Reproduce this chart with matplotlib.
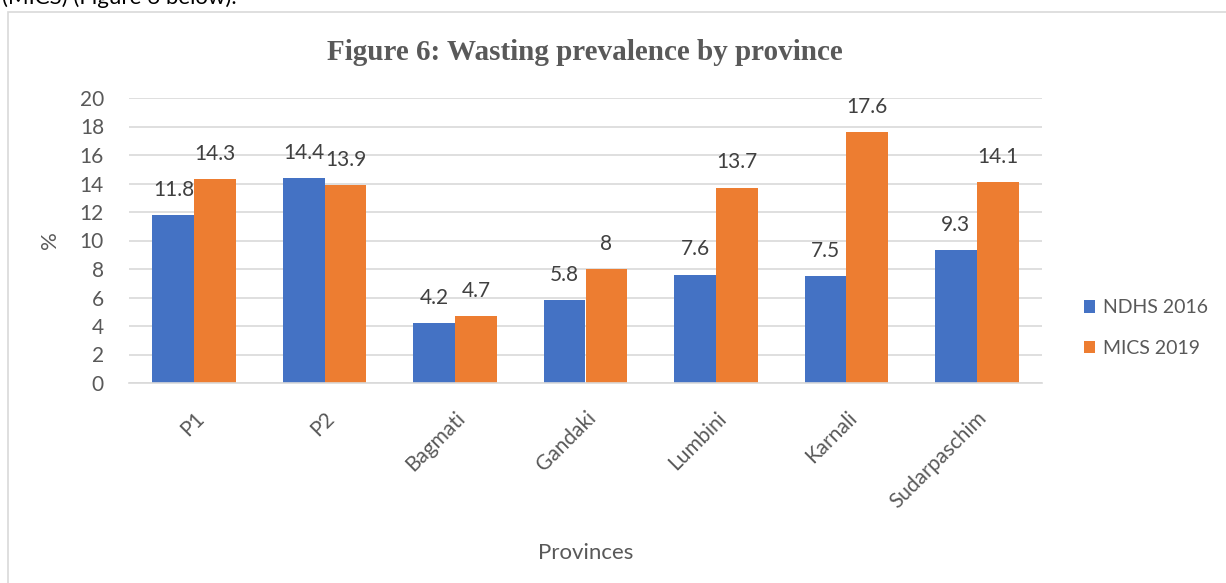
import numpy as np
import matplotlib.pyplot as plt
from matplotlib.patches import Rectangle

provinces = ['P1', 'P2', 'Bagmati', 'Gandaki', 'Lumbini', 'Karnali', 'Sudarpaschim']
ndhs_2016 = [11.8, 14.4, 4.2, 5.8, 7.6, 7.5, 9.3]
mics_2019 = [14.3, 13.9, 4.7, 8, 13.7, 17.6, 14.1]
series_names = ['NDHS 2016', 'MICS 2019']

blue = '#4472c4'
orange = '#ed7d31'
grey = '#595959'

plt.rcParams['font.family'] = ['Lato', 'DejaVu Sans']

W, H = 1226, 583
fig = plt.figure(figsize=(W / 100, H / 100), dpi=100)

# surrounding chart frame and cut-off document text
fig.patches.append(Rectangle((8 / W, -0.1), 1.2, (H - 12) / H + 0.1, transform=fig.transFigure,
                             fill=False, edgecolor='#d9d9d9', linewidth=1.2))
fig.text(2 / W, 1 - (-2) / H, '(MICS) (Figure 6 below).', fontsize=16, color='black',
         ha='left', va='center')

ax = fig.add_axes([129 / W, 1 - 383 / H, (1042 - 129) / W, (383 - 98) / H])

x = np.arange(len(provinces))
w = 0.32
b1 = ax.bar(x - w / 2, ndhs_2016, w, color=blue, label=series_names[0])
b2 = ax.bar(x + w / 2, mics_2019, w, color=orange, label=series_names[1])

for bars, vals in [(b1, ndhs_2016), (b2, mics_2019)]:
    for bar, v in zip(bars, vals):
        lab = f'{v:g}'
        ax.annotate(lab, (bar.get_x() + bar.get_width() / 2, v), xytext=(0, 11),
                    textcoords='offset points', ha='center', va='bottom',
                    fontsize=15, color='#404040')

ax.set_xlim(-0.5, len(provinces) - 0.5)
ax.set_ylim(0, 20)
ax.set_yticks(np.arange(0, 21, 2))
ax.yaxis.grid(True, color='#d9d9d9', linewidth=1.2)
ax.set_axisbelow(True)
for s in ['top', 'right', 'left']:
    ax.spines[s].set_visible(False)
ax.spines['bottom'].set_color('#d9d9d9')
ax.spines['bottom'].set_linewidth(1.2)
ax.tick_params(axis='both', length=0, labelsize=15, labelcolor=grey)
ax.tick_params(axis='y', pad=18)
ax.set_xticks(x)
ax.set_xticklabels(provinces, rotation=45, ha='right', rotation_mode='anchor')
ax.tick_params(axis='x', pad=18)

ax.set_ylabel('%', fontsize=16, color=grey)
ax.yaxis.set_label_coords(-(129 - 60) / (1042 - 129), 0.5)
ax.set_xlabel('Provinces', fontsize=16, color=grey)
ax.xaxis.set_label_coords(0.5, -(543 - 383) / (383 - 98))

fig.text(585 / W, 1 - 52 / H, 'Figure 6: Wasting prevalence by province',
         family='Liberation Serif', fontweight='bold', fontsize=21, color=grey,
         ha='center', va='center')

ax.legend(loc='center left', bbox_to_anchor=(1066 / W, 1 - 328 / H), bbox_transform=fig.transFigure,
          frameon=False, fontsize=14, labelcolor=grey, handlelength=0.6, handleheight=0.6,
          handletextpad=0.4, labelspacing=1.2)

fig.savefig('out.png', dpi=100)
